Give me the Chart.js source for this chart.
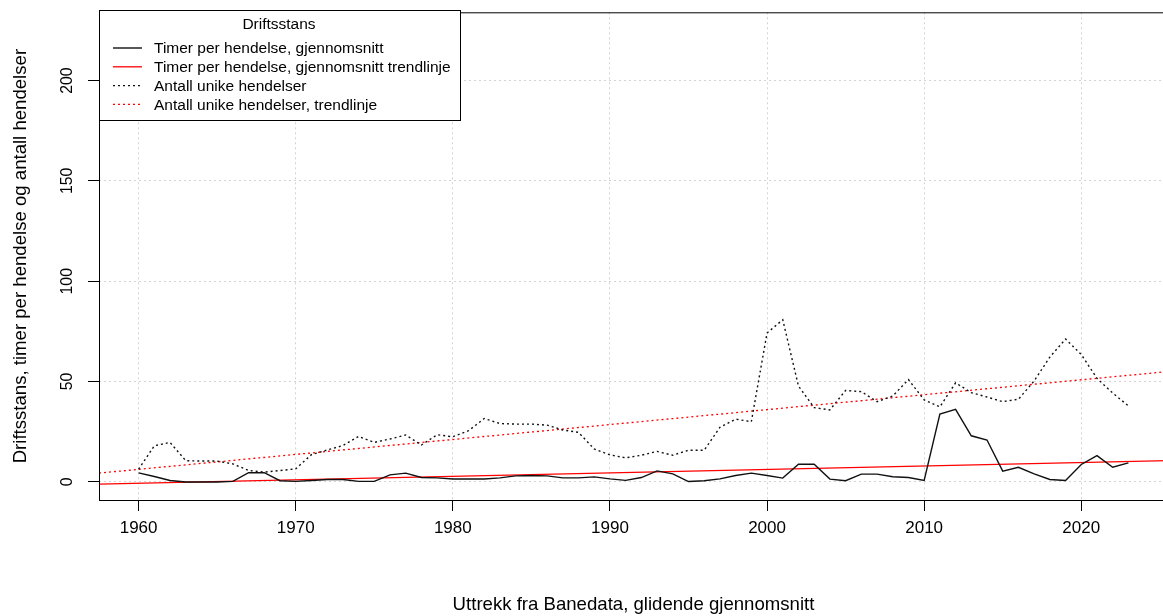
<!DOCTYPE html>
<html lang="no">

<head>
    <meta charset="UTF-8">
    <title>Driftsstans</title>
    <script src="https://cdn.jsdelivr.net/npm/chart.js"></script>
    <style>
        body {
            margin: 0;
            overflow: hidden;
            background: #fff;
        }
        #chart-container {
            width: 1168px;
            height: 616px;
        }
    </style>
</head>

<body>
    <div id="chart-container">
        <canvas id="chart" width="1168" height="616"></canvas>
    </div>

    <script>
        // aar 1960 - 2023
        const years = [];
        for (let y = 1960; y <= 2023; y++) years.push(y);

        // timer per hendelse, glidende gjennomsnitt
        const timer = [4.5, 2.7, 0.7, 0, 0, 0, 0.3, 4.6, 4.6, 0.6,
            0.3, 0.7, 1.2, 1.2, 0.3, 0.3, 3.5, 4.4, 2.2, 2.0,
            1.5, 1.5, 1.5, 2.0, 3.0, 3.2, 3.0, 2.0, 2.0, 2.5,
            1.5, 0.8, 2.2, 5.5, 4.0, 0.2, 0.6, 1.5, 3.2, 4.4,
            3.2, 1.9, 8.8, 8.8, 1.4, 0.6, 3.9, 3.9, 2.6, 2.2,
            0.7, 33.8, 36.2, 23.0, 20.9, 5.4, 7.3, 4.0, 1.2, 0.7,
            8.7, 13.1, 7.3, 9.5];

        // antall unike hendelser
        const antall = [6.3, 18.0, 19.7, 10.6, 10.4, 10.4, 9.0, 5.7, 4.9, 5.7,
            6.5, 13.6, 15.9, 18.1, 22.7, 19.7, 21.4, 23.4, 18.4, 23.5,
            22.5, 25.5, 31.6, 29.1, 28.8, 28.8, 28.3, 25.9, 24.7, 16.4,
            13.5, 12.0, 13.3, 15.2, 13.3, 15.8, 15.8, 27.2, 31.3, 30.0,
            74.2, 80.8, 47.8, 37.0, 35.9, 45.6, 45.0, 40.0, 42.8, 51.0,
            40.9, 37.4, 49.4, 44.5, 42.3, 40.0, 41.2, 50.3, 62.2, 71.2,
            63.5, 51.6, 44.3, 37.9];

        // trendlinjer, lest av ved kantene av plottet
        const trendYears = [1957.48, 2025.52];
        const timerTrend = [-1.1, 10.6];
        const antallTrend = [4.4, 55.0];

        const xTicks = [1960, 1970, 1980, 1990, 2000, 2010, 2020];
        const yTicks = [0, 50, 100, 150, 200];

        const legendTitle = 'Driftsstans';
        const font = 'Liberation Sans, Arial, sans-serif';

        const pts = (xs, ys) => xs.map((x, i) => ({ x: x, y: ys[i] }));

        // boks rundt plottet, roterte y-etiketter og legende (som i R)
        const rStyle = {
            id: 'rStyle',
            afterDraw(chart) {
                const ctx = chart.ctx;
                const a = chart.chartArea;
                ctx.save();
                ctx.strokeStyle = '#000';
                ctx.lineWidth = 1;
                ctx.setLineDash([]);
                ctx.strokeRect(a.left + 0.5, a.top + 0.5, a.right - a.left - 1, a.bottom - a.top);

                // y tick labels
                const ys = chart.scales.y;
                ctx.fillStyle = '#000';
                ctx.font = '15.8px ' + font;
                ctx.textAlign = 'center';
                ctx.textBaseline = 'middle';
                ys.ticks.forEach(t => {
                    ctx.save();
                    ctx.translate(68, ys.getPixelForValue(t.value));
                    ctx.rotate(-Math.PI / 2);
                    ctx.fillText(String(t.value), 0, 0);
                    ctx.restore();
                });

                // legende
                const lx = 99.5, ly = 10.5, lw = 361, lh = 110;
                ctx.font = '15.5px ' + font;
                ctx.fillStyle = '#fff';
                ctx.fillRect(lx, ly, lw, lh);
                ctx.strokeRect(lx, ly, lw, lh);
                ctx.fillStyle = '#000';
                ctx.fillText(legendTitle, 279, 25);
                ctx.textAlign = 'left';
                chart.data.datasets.forEach((ds, i) => {
                    const y = 48 + i * 18.8;
                    ctx.beginPath();
                    ctx.strokeStyle = ds.borderColor;
                    ctx.lineWidth = ds.borderWidth;
                    ctx.setLineDash(ds.borderDash || []);
                    ctx.moveTo(113, y);
                    ctx.lineTo(142, y);
                    ctx.stroke();
                    ctx.setLineDash([]);
                    ctx.fillStyle = '#000';
                    ctx.fillText(ds.label, 154, y + 1);
                });
                ctx.restore();
            }
        };

        const ctx = document.getElementById('chart').getContext('2d');
        const chart = new Chart(ctx, {
            type: 'line',
            data: {
                datasets: [{
                    label: 'Timer per hendelse, gjennomsnitt',
                    data: pts(years, timer),
                    borderColor: '#111',
                    borderWidth: 1.4
                }, {
                    label: 'Timer per hendelse, gjennomsnitt trendlinje',
                    data: pts(trendYears, timerTrend),
                    borderColor: '#ff0000',
                    borderWidth: 1.3
                }, {
                    label: 'Antall unike hendelser',
                    data: pts(years, antall),
                    borderColor: '#111',
                    borderWidth: 1.4,
                    borderDash: [2, 3]
                }, {
                    label: 'Antall unike hendelser, trendlinje',
                    data: pts(trendYears, antallTrend),
                    borderColor: '#ff0000',
                    borderWidth: 1.3,
                    borderDash: [2, 3]
                }]
            },
            options: {
                responsive: false,
                animation: false,
                layout: { padding: { top: 10, left: 0, right: 0, bottom: 0 } },
                elements: {
                    point: { radius: 0 },
                    line: { tension: 0, fill: false }
                },
                plugins: {
                    legend: { display: false },
                    tooltip: { enabled: false }
                },
                scales: {
                    x: {
                        type: 'linear',
                        min: 1957.48,
                        max: 2025.52,
                        afterBuildTicks: s => { s.ticks = xTicks.map(v => ({ value: v })); },
                        afterFit: s => { s.height = 116; },
                        grid: {
                            color: '#d3d3d3',
                            tickColor: '#000',
                            tickLength: 11,
                            tickWidth: 1,
                            tickBorderDash: []
                        },
                        border: { display: false, dash: [2, 3] },
                        ticks: {
                            color: '#000',
                            font: { family: font, size: 17 },
                            padding: 7,
                            maxRotation: 0,
                            callback: v => String(v)
                        },
                        title: {
                            display: true,
                            text: 'Uttrekk fra Banedata, glidende gjennomsnitt',
                            color: '#000',
                            font: { family: font, size: 18.6 },
                            padding: { top: 0, bottom: 0 }
                        }
                    },
                    y: {
                        min: -9,
                        max: 234,
                        afterBuildTicks: s => { s.ticks = yTicks.map(v => ({ value: v })); },
                        afterFit: s => { s.width = 99; },
                        grid: {
                            color: '#d3d3d3',
                            tickColor: '#000',
                            tickLength: 11,
                            tickWidth: 1,
                            tickBorderDash: []
                        },
                        border: { display: false, dash: [2, 3] },
                        ticks: {
                            color: 'rgba(0,0,0,0)',
                            font: { family: font, size: 15.5 }
                        },
                        title: {
                            display: true,
                            text: 'Driftsstans, timer per hendelse og antall hendelser',
                            color: '#000',
                            font: { family: font, size: 18.6 },
                            padding: { top: 10, bottom: 0 }
                        }
                    }
                }
            },
            plugins: [rStyle]
        });
    </script>
</body>

</html>
